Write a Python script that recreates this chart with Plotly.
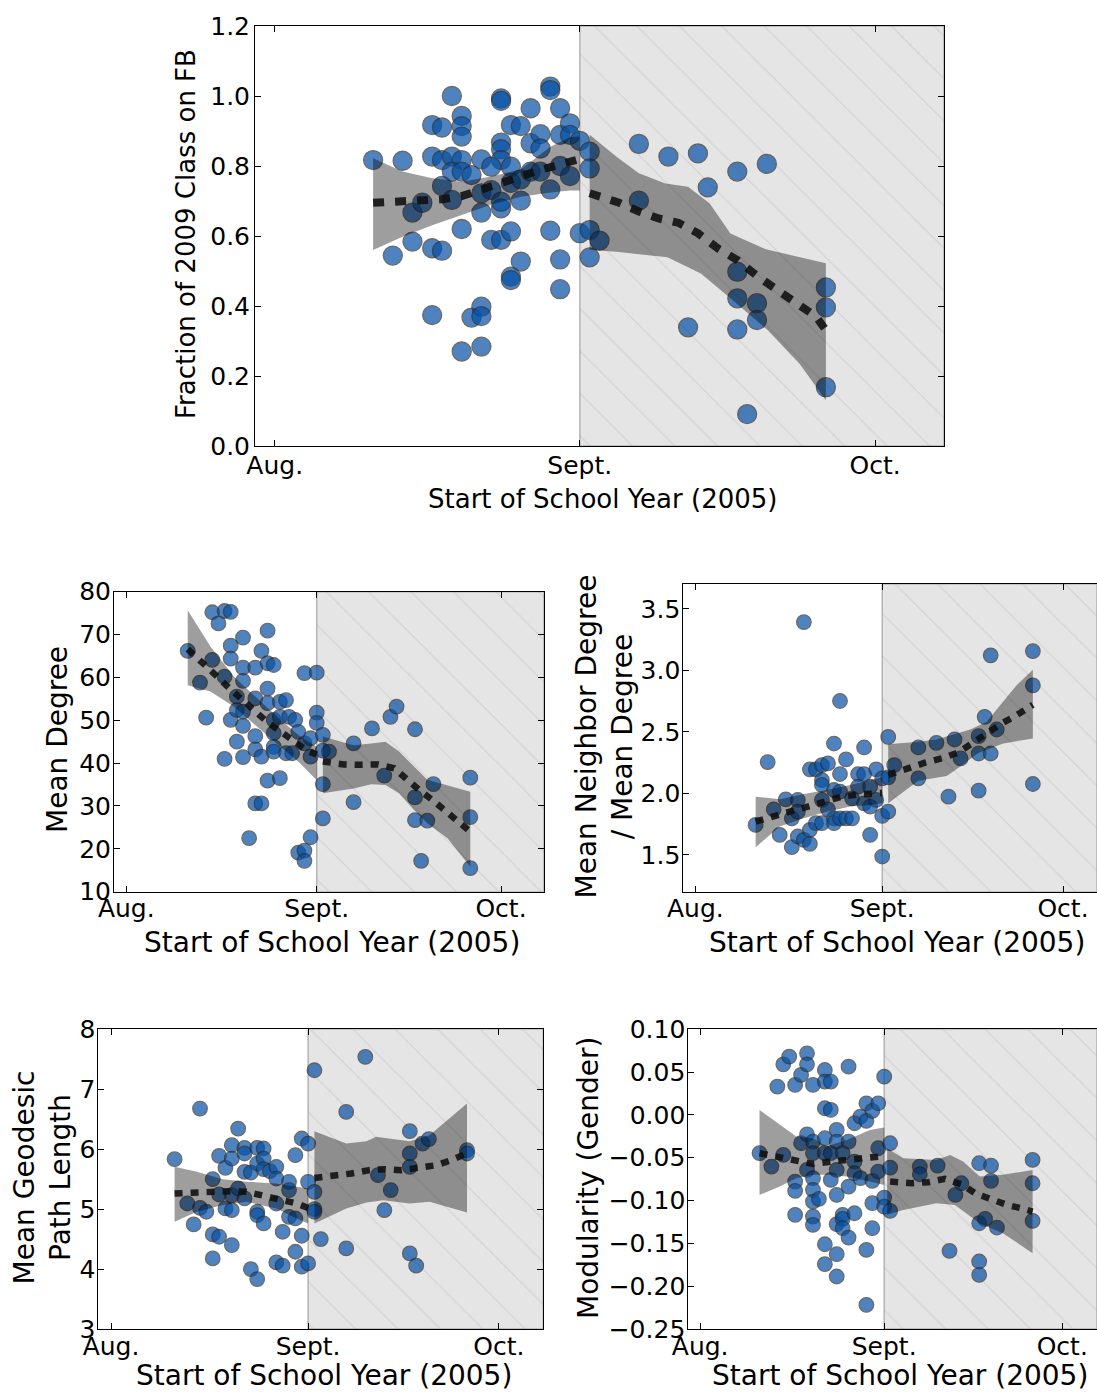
import pandas as pd
import plotly.graph_objects as go

W, H = 1097, 1392
BASE = pd.Timestamp("2005-09-01")
FONT = "DejaVu Sans"

month_ticks = ["2005-08-01", "2005-09-01", "2005-10-01"]
month_labels = ["Aug.", "Sept.", "Oct."]
x_title = "Start of School Year (2005)"

# ---------------- Panel 1: Fraction of 2009 class on FB ----------------
fb_days = [-21, -18, -19, -17, -16, -17, -15, -14, -15, -14, -13, -13, -12, -12, -12, -12, -13, -12, -11, -14,
           -13, -15, -14, -12, -15, -11, -10, -10, -12, -10, -10, -10, -10, -9, -8, -7, -6, -7, -7, -8,
           -8, -7, -6, -8, -8, -8, -9, -7, -9, -8, -8, -6, -7, -6, -5, -5, -5, -4, -4, -4,
           -3, -3, -2, -3, -3, -2, -2, -2, -2, -1, -1, -1, 0, 0, 1, 1, 1, 1, 2, 6,
           6, 9, 12, 13, 16, 16, 16, 16, 18, 18, 19, 11, 17, 25, 25, 25]
fb_vals = [0.817, 0.815, 0.544, 0.667, 0.695, 0.584, 0.917, 0.910, 0.827, 0.817, 1.0, 0.827, 0.943, 0.914, 0.884, 0.817, 0.784, 0.784, 0.774, 0.743,
           0.703, 0.565, 0.558, 0.620, 0.374, 0.367, 0.398, 0.371, 0.270, 0.284, 0.819, 0.722, 0.667, 0.589, 0.589, 0.613, 0.527, 0.484, 0.474, 0.993,
           0.986, 0.917, 0.914, 0.867, 0.848, 0.817, 0.798, 0.798, 0.731, 0.679, 0.698, 0.701, 0.752, 0.762, 0.965, 0.865, 0.784, 0.891, 0.850, 0.784,
           1.027, 1.017, 0.965, 0.733, 0.615, 0.533, 0.448, 0.800, 0.889, 0.922, 0.889, 0.771, 0.872, 0.608, 0.841, 0.793, 0.617, 0.539, 0.587, 0.863,
           0.701, 0.827, 0.836, 0.739, 0.784, 0.498, 0.422, 0.333, 0.408, 0.360, 0.806, 0.339, 0.091, 0.453, 0.396, 0.168]
fb_pre_line_days = [-21, -18, -16, -14, -12, -10, -8, -6, -4, -2, 0]
fb_pre_line_vals = [0.695, 0.700, 0.700, 0.705, 0.714, 0.731, 0.750, 0.770, 0.789, 0.805, 0.820]
fb_post_line_days = [1, 4, 6, 8, 10, 12, 14, 16, 18, 20, 22, 24, 25]
fb_post_line_vals = [0.722, 0.695, 0.670, 0.650, 0.638, 0.608, 0.565, 0.531, 0.486, 0.450, 0.408, 0.370, 0.331]
fb_pre_hi_days = [-21, -18, -15, -12, -9, -6, -3, -1, 0]
fb_pre_hi_vals = [0.822, 0.784, 0.765, 0.755, 0.770, 0.790, 0.855, 0.882, 0.884]
fb_pre_lo_days = [-21, -18, -15, -12, -9, -6, -3, -1, 0]
fb_pre_lo_vals = [0.560, 0.598, 0.631, 0.660, 0.690, 0.712, 0.724, 0.730, 0.730]
fb_post_hi_days = [1, 3.7, 6, 8.7, 11, 13.2, 15.3, 18.9, 25]
fb_post_hi_vals = [0.889, 0.827, 0.779, 0.750, 0.741, 0.693, 0.607, 0.562, 0.522]
fb_post_lo_days = [1, 3.7, 8.9, 12.3, 15.3, 19.1, 22.3, 25]
fb_post_lo_vals = [0.560, 0.555, 0.539, 0.493, 0.422, 0.331, 0.236, 0.131]

# ---------------- Panel 2: Mean degree ----------------
deg_days = [-21, -19, -18, -17, -17, -16, -15, -14, -14, -14, -15, -14, -15, -13, -13, -13, -12, -12, -12, -12,
            -12, -12, -11, -10, -10, -10, -10, -10, -9, -9, -9, -8, -8, -8, -8, -8, -7, -7, -7, -7,
            -7, -6, -6, -6, -5, -5, -4.5, -4, -3.5, -3, -2, -2, -1, -1, -1, -3, -2, -2, 0, 0,
            0, 1, 1, 2, 1, 1, 6, 6, 9, 11, 12, 13, 16, 16, 16, 18, 17, 19, 25, 25, 25]
deg_vals = [66.2, 58.8, 50.6, 64.1, 75.2, 72.6, 75.5, 75.3, 67.4, 64.4, 60.2, 50.1, 41.0, 45.0, 52.4, 55.5, 69.3, 62.3, 59.2, 48.7,
            41.4, 52.0, 22.5, 62.3, 55.1, 46.3, 43.2, 30.6, 30.6, 66.2, 41.5, 70.9, 63.3, 57.4, 54.0, 35.9, 62.9, 50.1, 47.0, 43.8,
            42.7, 36.5, 54.3, 50.8, 54.7, 42.3, 50.8, 42.3, 50.1, 47.3, 61.0, 44.6, 41.5, 45.8, 22.7, 19.1, 19.6, 17.2, 61.1, 51.8,
            49.4, 46.6, 42.9, 42.7, 35.1, 27.1, 44.6, 30.9, 48.1, 37.1, 50.8, 53.2, 47.9, 32.0, 26.7, 26.6, 17.2, 35.1, 36.6, 27.4, 15.5]
deg_pre_line_days = [-21, -18.5, -16.5, -14.6, -12.4, -10.4, -8.3, -6.1, -3.9, -1.6, 0]
deg_pre_line_vals = [66.6, 63.5, 60.6, 58.0, 55.1, 52.6, 49.9, 47.6, 45.2, 42.9, 42.0]
deg_post_line_days = [1, 4.4, 7.3, 10, 12.6, 14.7, 16.8, 19, 21.1, 23.3, 25]
deg_post_line_vals = [40.4, 39.7, 39.6, 39.7, 38.8, 36.1, 33.6, 31.2, 28.7, 26.1, 24.0]
deg_pre_hi_days = [-21, -17.3, -13.5, -9.7, -5.9, -2.7, 0]
deg_pre_hi_vals = [75.7, 67.2, 60.2, 55.1, 50.1, 46.2, 43.8]
deg_pre_lo_days = [-21, -17.3, -13.5, -9.7, -5.9, -2.7, 0]
deg_pre_lo_vals = [58.2, 56.7, 53.2, 48.5, 43.8, 40.0, 36.0]
deg_post_hi_days = [1, 6, 8.9, 11.2, 13.4, 15.8, 18, 25]
deg_post_hi_vals = [46.2, 44.2, 44.6, 45.0, 42.7, 39.2, 36.1, 33.3]
deg_post_lo_days = [1, 6, 8.9, 11.2, 13.4, 15.8, 18, 21.3, 25]
deg_post_lo_vals = [33.0, 34.1, 35.1, 34.9, 33.0, 29.1, 26.0, 22.5, 15.8]

# ---------------- Panel 3: Mean neighbor degree / mean degree ----------------
nbr_days = [-21, -19, -18, -17, -16, -15, -15, -14, -14, -14, -13, -13, -12, -12, -12, -11, -11, -10, -10, -10,
            -10, -10, -9, -9, -8, -8, -8, -8, -7, -7, -7, -7, -6, -6, -5, -5, -4, -4, -3, -3,
            -3, -2, -2, -2, -1, -1, 0, 0, 0, 1, 1, 1, 2, 6, 6, 9, 11, 12, 13, 16,
            16, 16, 17, 18, 18, 19, 25, 25, 25]
nbr_vals = [1.743, 2.254, 1.870, 1.662, 1.951, 1.797, 1.562, 1.946, 1.851, 1.649, 3.392, 1.622, 2.195, 1.703, 1.589, 2.195, 1.757, 2.230, 2.108, 2.068,
            1.946, 1.757, 2.243, 1.870, 2.405, 2.027, 1.797, 1.757, 2.157, 2.751, 2.014, 1.797, 2.276, 1.797, 1.959, 1.797, 2.157, 2.054, 2.373, 2.157,
            1.919, 2.054, 1.662, 1.892, 2.195, 1.946, 2.122, 1.816, 1.486, 2.459, 1.851, 2.130, 2.230, 2.373, 2.122, 2.411, 1.973, 2.438, 2.284, 2.465,
            2.324, 2.022, 2.622, 3.122, 2.324, 2.519, 3.157, 2.878, 2.076]
nbr_pre_line_days = [-21, -17.6, -14.7, -12, -9.4, -6.7, -3.9, 0]
nbr_pre_line_vals = [1.770, 1.816, 1.860, 1.897, 1.940, 1.973, 1.990, 2.003]
nbr_post_line_days = [1, 4.4, 7.1, 9.9, 12.5, 14.9, 16.9, 19.6, 22, 25]
nbr_post_line_vals = [2.150, 2.211, 2.249, 2.284, 2.330, 2.405, 2.473, 2.562, 2.627, 2.720]
nbr_pre_hi_days = [-21, -17, -13, -9.2, -5.3, -2, 0]
nbr_pre_hi_vals = [1.973, 1.951, 1.995, 2.027, 2.068, 2.108, 2.130]
nbr_pre_lo_days = [-21, -17, -13, -9.2, -5.3, -2, 0]
nbr_pre_lo_vals = [1.562, 1.730, 1.797, 1.851, 1.892, 1.905, 1.919]
nbr_post_hi_days = [1, 6, 9, 11.8, 14.6, 17.3, 19.6, 22.3, 25]
nbr_post_hi_vals = [2.400, 2.419, 2.438, 2.481, 2.519, 2.581, 2.716, 2.878, 3.005]
nbr_post_lo_days = [1, 6, 10.7, 12.9, 16, 20.1, 25]
nbr_post_lo_vals = [1.919, 2.103, 2.141, 2.216, 2.330, 2.405, 2.446]

# ---------------- Panel 4: Mean geodesic path length ----------------
path_days = [-21, -19, -18, -17, -17, -16, -15, -15, -15, -14, -14, -14, -13, -13, -12, -12, -12, -12, -12, -11,
             -11, -10, -10, -10, -10, -9, -9, -8, -8, -8, -8, -8, -7, -7, -7, -7, -6, -5, -5, -5,
             -5, -4, -4, -3, -3, -3, -2, -2, -2, -1, -1, -1, 0, 0, 0, 1, 1, 1, 1, 2,
             6, 6, 9, 11, 12, 13, 16, 16, 16, 16, 17, 18, 19, 25, 25]
path_vals = [5.833, 5.094, 4.744, 6.678, 5.022, 4.956, 5.500, 4.578, 4.178, 5.889, 5.244, 4.539, 5.689, 5.011, 6.067, 5.844, 5.233, 4.983, 4.400, 6.344,
             5.344, 6.022, 5.928, 5.622, 5.178, 5.611, 4.000, 6.022, 5.761, 4.956, 4.900, 3.833, 6.011, 5.844, 5.667, 4.761, 5.633, 5.706, 5.511, 5.094,
             4.111, 4.622, 4.056, 5.456, 5.317, 4.872, 5.900, 4.844, 4.289, 6.178, 4.556, 4.039, 6.094, 5.456, 4.094, 7.317, 5.289, 5.000, 4.956, 4.500,
             6.622, 4.344, 7.539, 5.567, 4.983, 5.317, 6.300, 5.928, 5.706, 4.261, 4.056, 6.094, 6.167, 5.983, 5.928]
path_pre_line_days = [-21, -17.6, -14.9, -12.3, -9.7, -7.1, -4.5, -1.8, 0]
path_pre_line_vals = [5.261, 5.278, 5.300, 5.300, 5.289, 5.233, 5.178, 5.094, 5.020]
path_post_line_days = [1, 4.2, 6.8, 9.6, 12, 14.7, 17.4, 20.2, 22.5, 25]
path_post_line_vals = [5.520, 5.550, 5.594, 5.650, 5.667, 5.650, 5.678, 5.733, 5.817, 5.930]
path_pre_hi_days = [-21, -17.5, -13.4, -9.7, -5, -1.8, 0]
path_pre_hi_vals = [5.706, 5.622, 5.500, 5.456, 5.428, 5.372, 5.344]
path_pre_lo_days = [-21, -17.5, -13.4, -9.7, -5, -1.8, 0]
path_pre_lo_vals = [4.789, 4.956, 5.067, 5.122, 5.011, 4.844, 4.761]
path_post_hi_days = [1, 6, 9.2, 10.7, 11.8, 16, 19.1, 25]
path_post_hi_vals = [6.300, 6.094, 6.133, 6.206, 6.189, 6.133, 6.233, 6.761]
path_post_lo_days = [1, 6, 9.2, 11.8, 16, 19.1, 25]
path_post_lo_vals = [4.761, 5.011, 5.111, 5.150, 5.094, 5.122, 4.944]

# ---------------- Panel 5: Modularity (gender) ----------------
mod_days = [-21, -19, -18, -17, -17, -16, -15, -15, -15, -15, -14, -14, -13, -13, -13, -13, -12, -12, -12, -12,
            -12, -12, -12, -12, -11, -10, -10, -10, -10, -10, -10, -10, -9, -9, -9, -9, -8, -8, -8, -8,
            -8, -8, -8, -7, -7, -7, -7, -6, -6, -6, -6, -5, -5, -5, -5, -4, -4, -3, -3, -3,
            -3, -2, -2, -2, -2, -1, -1, -1, 0, 0, 0, 1, 1, 1, 6, 6, 9, 11, 12, 13,
            16, 16, 16, 16, 17, 18, 18, 19, 25, 25, 25]
mod_vals = [-0.0447, -0.0603, 0.0331, 0.0591, -0.0467, 0.0681, 0.0350, -0.0778, -0.0887, -0.1167, 0.0467, -0.0331, 0.0720, 0.0591, -0.0226, -0.0642, 0.0350, -0.0311, -0.0447, -0.0739,
            -0.0875, -0.1012, -0.1187, -0.1284, -0.0981, 0.0525, 0.0389, 0.0078, -0.0272, -0.0447, -0.1510, -0.1743, 0.0389, 0.0058, -0.0447, -0.0759, -0.0175, -0.0311, -0.0642, -0.0934,
            -0.1276, -0.1626, -0.1887, -0.0447, -0.1167, -0.1214, -0.1323, 0.0564, -0.0311, -0.0837, -0.1432, -0.0097, -0.0545, -0.0681, -0.1148, -0.0019, -0.0739, 0.0136, -0.0070, -0.1576,
            -0.2218, 0.0047, -0.0770, -0.1031, -0.1323, 0.0136, -0.0389, -0.0661, 0.0447, -0.0965, -0.1070, -0.0331, -0.0615, -0.1121, -0.0603, -0.0693, -0.0591, -0.1588, -0.0934, -0.0798,
            -0.0564, -0.1265, -0.1712, -0.1868, -0.1214, -0.0591, -0.0770, -0.1315, -0.0525, -0.0798, -0.1237]
mod_pre_line_days = [-21, -17.6, -14.8, -12, -9, -6.2, -3.4, 0]
mod_pre_line_vals = [-0.0447, -0.0498, -0.0537, -0.0572, -0.0545, -0.0529, -0.0514, -0.0480]
mod_post_line_days = [1, 4.6, 7.4, 10.2, 13, 15.3, 17.9, 20.7, 23.5, 25]
mod_post_line_vals = [-0.0778, -0.0798, -0.0786, -0.0747, -0.0809, -0.0914, -0.0981, -0.1051, -0.1097, -0.1128]
mod_pre_hi_days = [-21, -17.6, -14.8, -12, -9.7, -6.3, -2.4, 0]
mod_pre_hi_vals = [0.0058, -0.0117, -0.0253, -0.0272, -0.0370, -0.0292, -0.0175, -0.0148]
mod_pre_lo_days = [-21, -17.6, -14.8, -12, -9.7, -6.3, -2.4, 0]
mod_pre_lo_vals = [-0.0934, -0.0837, -0.0739, -0.0700, -0.0700, -0.0720, -0.0778, -0.0817]
mod_post_hi_days = [0.5, 3.2, 8.8, 11.1, 13.3, 16.1, 20, 25]
mod_post_hi_vals = [-0.0389, -0.0506, -0.0525, -0.0467, -0.0545, -0.0720, -0.0700, -0.0642]
mod_post_lo_days = [0.5, 3.2, 8.8, 11.9, 16.1, 20, 25]
mod_post_lo_vals = [-0.1167, -0.1109, -0.1031, -0.1051, -0.1265, -0.1381, -0.1615]


def to_dates(days):
    return [BASE + pd.Timedelta(days=float(d)) for d in days]


def ydom(top_px, bot_px):
    return [1 - bot_px / H, 1 - top_px / H]


def xdom(l_px, r_px):
    return [l_px / W, min(1.0, r_px / W)]


panels = [
    dict(pts=(fb_days, fb_vals),
         lines=[(fb_pre_line_days, fb_pre_line_vals), (fb_post_line_days, fb_post_line_vals)],
         bands=[(fb_pre_hi_days, fb_pre_hi_vals, fb_pre_lo_days, fb_pre_lo_vals),
                (fb_post_hi_days, fb_post_hi_vals, fb_post_lo_days, fb_post_lo_vals)],
         xd=xdom(255, 944), yd=ydom(26, 446), xr=(-33, 37), yr=(0, 1.2), tick0=0, dtick=0.2, fmt=".1f",
         msize=19, lw=8, dash="11px,11px", ymirror=True, xso=-3, yso=-1,
         xt=(x_title, 602, 499, 26), yt=("Fraction of 2009 Class on FB", 186, 234, 26)),
    dict(pts=(deg_days, deg_vals),
         lines=[(deg_pre_line_days, deg_pre_line_vals), (deg_post_line_days, deg_post_line_vals)],
         bands=[(deg_pre_hi_days, deg_pre_hi_vals, deg_pre_lo_days, deg_pre_lo_vals),
                (deg_post_hi_days, deg_post_hi_vals, deg_post_lo_days, deg_post_lo_vals)],
         xd=xdom(114, 544), yd=ydom(591.7, 891.7), xr=(-33, 37), yr=(10, 80), tick0=10, dtick=10, fmt="d",
         msize=14.5, lw=6.5, dash="8px,8px", ymirror=True, xso=-6, yso=-3,
         xt=(x_title, 332, 942, 28), yt=("Mean Degree", 57, 740, 28)),
    dict(pts=(nbr_days, nbr_vals),
         lines=[(nbr_pre_line_days, nbr_pre_line_vals), (nbr_post_line_days, nbr_post_line_vals)],
         bands=[(nbr_pre_hi_days, nbr_pre_hi_vals, nbr_pre_lo_days, nbr_pre_lo_vals),
                (nbr_post_hi_days, nbr_post_hi_vals, nbr_post_lo_days, nbr_post_lo_vals)],
         xd=xdom(683.3, 1097), yd=ydom(584.3, 891.7), xr=(-33, 35.64), yr=(1.2, 3.7), tick0=1.5, dtick=0.5, fmt=".1f",
         msize=14.5, lw=6.5, dash="8px,8px", ymirror=False, xso=-6, yso=-3,
         xt=(x_title, 897, 942, 28), yt=("Mean Neighbor Degree<br>/ Mean Degree", 603.5, 736, 28)),
    dict(pts=(path_days, path_vals),
         lines=[(path_pre_line_days, path_pre_line_vals), (path_post_line_days, path_post_line_vals)],
         bands=[(path_pre_hi_days, path_pre_hi_vals, path_pre_lo_days, path_pre_lo_vals),
                (path_post_hi_days, path_post_hi_vals, path_post_lo_days, path_post_lo_vals)],
         xd=xdom(98.3, 543.3), yd=ydom(1029.3, 1329), xr=(-33, 37), yr=(3, 8), tick0=3, dtick=1, fmt="d",
         msize=14.5, lw=6.5, dash="8px,8px", ymirror=True, xso=-5, yso=-3,
         xt=(x_title, 324, 1375, 28), yt=("Mean Geodesic<br>Path Length", 41.5, 1178, 28)),
    dict(pts=(mod_days, mod_vals),
         lines=[(mod_pre_line_days, mod_pre_line_vals), (mod_post_line_days, mod_post_line_vals)],
         bands=[(mod_pre_hi_days, mod_pre_hi_vals, mod_pre_lo_days, mod_pre_lo_vals),
                (mod_post_hi_days, mod_post_hi_vals, mod_post_lo_days, mod_post_lo_vals)],
         xd=xdom(688.3, 1097), yd=ydom(1029.3, 1329), xr=(-33, 35.85), yr=(-0.25, 0.10), tick0=-0.25, dtick=0.05, fmt=".2f",
         msize=14.5, lw=6.5, dash="8px,8px", ymirror=False, xso=-5, yso=-3,
         xt=(x_title, 900, 1375, 28), yt=("Modularity (Gender)", 588, 1178, 28)),
]

fig = go.Figure()
layout = dict(width=W, height=H, autosize=False, margin=dict(l=0, r=0, t=0, b=0, pad=0),
              paper_bgcolor="white", plot_bgcolor="white", showlegend=False,
              font=dict(family=FONT, color="black"))
annotations = []

for i, p in enumerate(panels):
    n = "" if i == 0 else str(i + 1)
    xa, ya = "x" + n, "y" + n
    x0d, x1d = to_dates([p["xr"][0], p["xr"][1]])
    # shaded post-start region (Sept. onward)
    sx = to_dates([0, p["xr"][1], p["xr"][1], 0, 0])
    sy = [p["yr"][0], p["yr"][0], p["yr"][1], p["yr"][1], p["yr"][0]]
    fig.add_trace(go.Scatter(
        x=sx, y=sy, xaxis=xa, yaxis=ya, mode="lines", fill="toself",
        fillcolor="#e5e5e5",
        fillpattern=dict(shape="\\", size=30, solidity=0.04, fgcolor="#bcbcbc", bgcolor="#e5e5e5"),
        line=dict(color="rgba(140,140,140,0.6)", width=1.5), hoverinfo="skip"))
    # scatter points
    fig.add_trace(go.Scatter(
        x=to_dates(p["pts"][0]), y=p["pts"][1], xaxis=xa, yaxis=ya, mode="markers",
        marker=dict(size=p["msize"], color="rgb(5,80,165)", opacity=0.7,
                    line=dict(color="rgb(45,45,45)", width=1.3)), cliponaxis=False))
    # confidence bands
    for hd, hv, ld, lv in p["bands"]:
        fig.add_trace(go.Scatter(
            x=to_dates(list(hd) + list(ld)[::-1]), y=list(hv) + list(lv)[::-1],
            xaxis=xa, yaxis=ya, mode="lines", fill="toself",
            fillcolor="rgba(0,0,0,0.38)", line=dict(width=0), hoverinfo="skip"))
    # trend lines
    for ld, lv in p["lines"]:
        fig.add_trace(go.Scatter(
            x=to_dates(ld), y=lv, xaxis=xa, yaxis=ya, mode="lines",
            line=dict(color="rgba(15,15,15,0.88)", width=p["lw"], dash=p["dash"])))

    axis_common = dict(showline=True, linecolor="black", linewidth=1, ticks="inside", ticklen=6,
                       tickcolor="black", tickwidth=1, showgrid=False, zeroline=False, automargin=False,
                       tickfont=dict(family=FONT, size=25, color="black"))
    layout["xaxis" + n] = dict(domain=p["xd"], anchor=ya, type="date", range=[x0d, x1d],
                               tickmode="array", tickvals=month_ticks, ticktext=month_labels,
                               mirror="allticks", ticklabelstandoff=p["xso"], **axis_common)
    layout["yaxis" + n] = dict(domain=p["yd"], anchor=xa, range=list(p["yr"]), tickmode="linear",
                               tick0=p["tick0"], dtick=p["dtick"], tickformat=p["fmt"],
                               ticklabelstandoff=p["yso"],
                               mirror="allticks" if p["ymirror"] else False, **axis_common)
    t, px, py, fs = p["xt"]
    annotations.append(dict(text=t, x=px / W, y=1 - py / H, xref="paper", yref="paper",
                            xanchor="center", yanchor="middle", showarrow=False,
                            font=dict(family=FONT, size=fs, color="black")))
    t, px, py, fs = p["yt"]
    annotations.append(dict(text=t, x=px / W, y=1 - py / H, xref="paper", yref="paper",
                            xanchor="center", yanchor="middle", showarrow=False, textangle=-90,
                            font=dict(family=FONT, size=fs, color="black")))

layout["annotations"] = annotations
fig.update_layout(**layout)
fig.write_html("out.html")
